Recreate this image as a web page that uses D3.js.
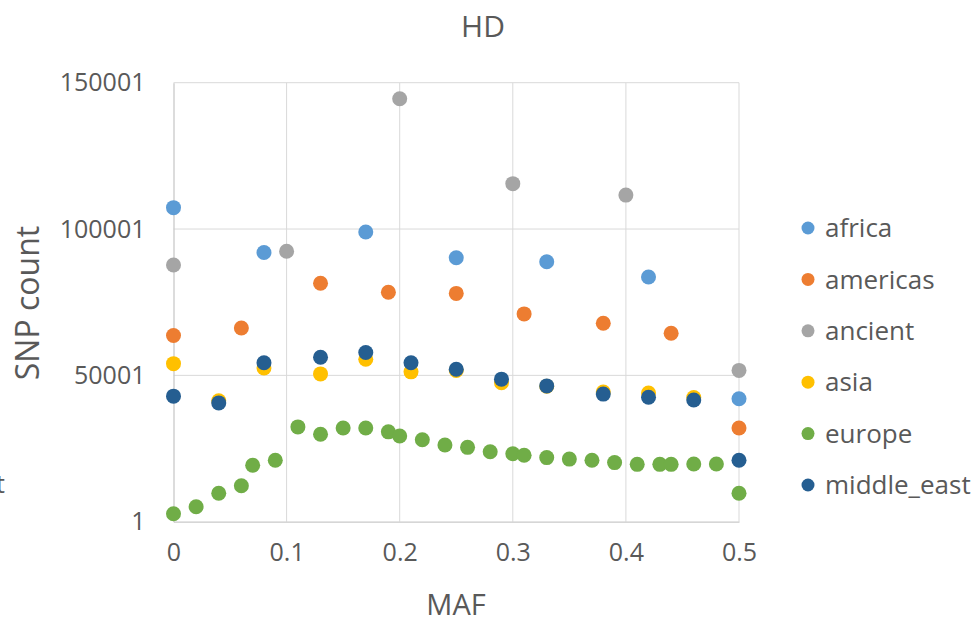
<!DOCTYPE html>
<html>
<head>
<meta charset="utf-8">
<script src="https://cdn.jsdelivr.net/npm/d3@7"></script>
<style>
  html, body { margin: 0; padding: 0; background: #fff; }
  svg { display: block; }
  text { font-family: "Open Sans", sans-serif; fill: #595959; }
</style>
</head>
<body>
<svg id="chart" width="976" height="623"></svg>
<script>
// ---- data ----
const seriesNames = ["africa", "americas", "ancient", "asia", "europe", "middle_east"];
const seriesColors = ["#5B9BD5", "#ED7D31", "#A5A5A5", "#FFC000", "#70AD47", "#255E91"];

const africaX = [0, 0.08, 0.17, 0.25, 0.33, 0.42, 0.5];
const africaY = [107300, 92000, 99000, 90200, 88800, 83600, 42000];

const americasX = [0, 0.06, 0.13, 0.19, 0.25, 0.31, 0.38, 0.44, 0.5];
const americasY = [63600, 66200, 81500, 78400, 78000, 71000, 67800, 64400, 32000];

const ancientX = [0, 0.1, 0.2, 0.3, 0.4, 0.5];
const ancientY = [87700, 92400, 144500, 115500, 111600, 51700];

const asiaX = [0, 0.04, 0.08, 0.13, 0.17, 0.21, 0.25, 0.29, 0.33, 0.38, 0.42, 0.46];
const asiaY = [54000, 41300, 52500, 50500, 55500, 51200, 51700, 47500, 46300, 44300, 44000, 42400];

const europeX = [0, 0.02, 0.04, 0.06, 0.07, 0.09, 0.11, 0.13, 0.15, 0.17, 0.19, 0.2, 0.22, 0.24, 0.26, 0.28, 0.3, 0.31, 0.33, 0.35, 0.37, 0.39, 0.41, 0.43, 0.44, 0.46, 0.48, 0.5];
const europeY = [2700, 5100, 9700, 12300, 19300, 21000, 32400, 29900, 32000, 32000, 30700, 29300, 28000, 26200, 25400, 23900, 23200, 22700, 21900, 21400, 21000, 20200, 19600, 19600, 19600, 19700, 19700, 9700];

const middleEastX = [0, 0.04, 0.08, 0.13, 0.17, 0.21, 0.25, 0.29, 0.33, 0.38, 0.42, 0.46, 0.5];
const middleEastY = [42900, 40600, 54300, 56200, 57800, 54300, 52100, 48700, 46400, 43600, 42500, 41600, 21000];

const xTicks = [0, 0.1, 0.2, 0.3, 0.4, 0.5];
const xTickLabels = ["0", "0.1", "0.2", "0.3", "0.4", "0.5"];
const yTicks = [1, 50001, 100001, 150001];
const yTickLabels = ["1", "50001", "100001", "150001"];

const chartTitle = "HD";
const xTitle = "MAF";
const yTitle = "SNP count";

// ---- build ----
const seriesX = [africaX, americasX, ancientX, asiaX, europeX, middleEastX];
const seriesY = [africaY, americasY, ancientY, asiaY, europeY, middleEastY];
const series = seriesNames.map((name, i) => ({
  name, color: seriesColors[i],
  points: seriesX[i].map((x, j) => ({ x, y: seriesY[i][j] }))
}));

const svg = d3.select("#chart");
const plotL = 173.5, plotR = 739, plotT = 82.7, plotB = 521.7;
const x = d3.scaleLinear().domain([0, 0.5]).range([plotL, plotR]);
const y = d3.scaleLinear().domain([1, 150001]).range([plotB, plotT]);

// gridlines
const grid = svg.append("g");
grid.selectAll("line.v").data(xTicks.slice(1)).join("line")
  .attr("x1", d => x(d)).attr("x2", d => x(d))
  .attr("y1", plotT).attr("y2", plotB)
  .attr("stroke", "#D9D9D9").attr("stroke-width", 1);
grid.selectAll("line.h").data(yTicks.slice(1)).join("line")
  .attr("x1", plotL).attr("x2", plotR)
  .attr("y1", d => y(d)).attr("y2", d => y(d))
  .attr("stroke", "#D9D9D9").attr("stroke-width", 1);

// axes
const xAxis = d3.axisBottom(x).tickValues(xTicks).tickSize(0)
  .tickFormat((d, i) => xTickLabels[i]).tickPadding(22);
const gx = svg.append("g").attr("transform", `translate(0,${plotB})`).call(xAxis);
gx.select(".domain").attr("stroke", "#C9C9C9").attr("stroke-width", 1.3);
gx.selectAll("text").style("font-size", "25px").attr("fill", "#595959")
  .style("font-family", "'Open Sans', sans-serif");

const yAxis = d3.axisLeft(y).tickValues(yTicks).tickSize(0)
  .tickFormat((d, i) => yTickLabels[i]).tickPadding(28);
const gy = svg.append("g").attr("transform", `translate(${plotL},0)`).call(yAxis);
gy.select(".domain").attr("stroke", "#C9C9C9").attr("stroke-width", 1.3);
gy.selectAll("text").style("font-size", "25px").attr("fill", "#595959")
  .style("font-family", "'Open Sans', sans-serif");

// points
const pg = svg.append("g");
series.forEach(s => {
  pg.append("g").selectAll("circle").data(s.points).join("circle")
    .attr("cx", d => x(d.x)).attr("cy", d => y(d.y)).attr("r", 7.5)
    .attr("fill", s.color);
});

// titles
svg.append("text").attr("x", 483).attr("y", 37).attr("text-anchor", "middle")
  .style("font-size", "30px").text(chartTitle);
svg.append("text").attr("x", 456).attr("y", 615).attr("text-anchor", "middle")
  .style("font-size", "29px").text(xTitle);
svg.append("text").attr("transform", "translate(39,303) rotate(-90)")
  .attr("text-anchor", "middle").style("font-size", "32px").text(yTitle);

// clipped label fragment at the far left
svg.append("text").attr("x", 5).attr("y", 493).attr("text-anchor", "end")
  .style("font-size", "25px").text("t");

// legend
const lg = svg.append("g");
const legendY = d3.scalePoint().domain(seriesNames).range([228, 485]);
series.forEach(s => {
  const g = lg.append("g").attr("transform", `translate(0,${legendY(s.name)})`);
  g.append("circle").attr("cx", 808).attr("cy", 0).attr("r", 6.5).attr("fill", s.color);
  g.append("text").attr("x", 825).attr("y", 0).attr("dy", "0.35em")
    .style("font-size", "26px").text(s.name);
});
</script>
</body>
</html>
